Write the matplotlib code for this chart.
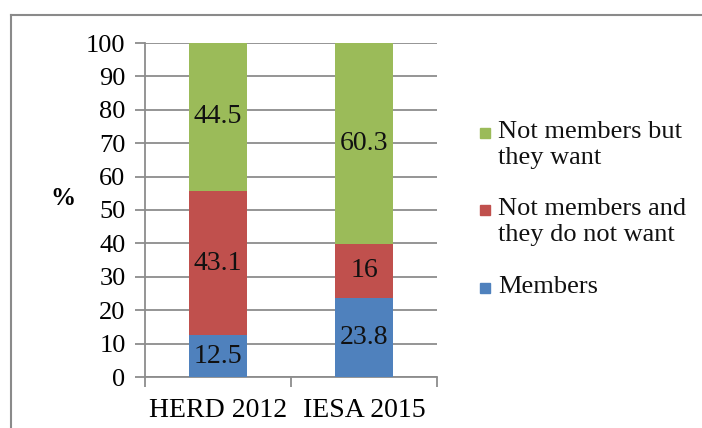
import matplotlib.pyplot as plt
from matplotlib.lines import Line2D
from matplotlib.patches import Rectangle

categories = ["HERD 2012", "IESA 2015"]
members = [12.5, 23.8]
not_members_no = [43.1, 16]
not_members_want = [44.5, 60.3]
series_labels = ["Members", "Not members and\nthey do not want", "Not members but\nthey want"]
colors = ["#4F81BD", "#C0504D", "#9BBB59"]
yticks = list(range(0, 101, 10))

plt.rcParams['font.family'] = ['Liberation Serif', 'DejaVu Serif']

W, H = 702, 428
fig = plt.figure(figsize=(W / 100, H / 100), dpi=100)

# outer chart frame (only top and left edges visible in the reference crop)
fx, fy = 10.5 / W, 1 - 14.5 / H
fig.add_artist(Line2D([fx, 1.0], [fy, fy], transform=fig.transFigure,
                      color="#8a8a8a", linewidth=1.5))
fig.add_artist(Line2D([fx, fx], [0.0, fy], transform=fig.transFigure,
                      color="#8a8a8a", linewidth=1.5))

ax = fig.add_axes([145 / W, 1 - 377 / H, (437 - 145) / W, (377 - 43) / H])

x = list(range(len(categories)))
series = [members, not_members_no, not_members_want]
bottom = [0.0] * len(categories)
for vals, col in zip(series, colors):
    ax.bar(x, vals, width=0.40, bottom=bottom, color=col, zorder=3)
    for xi, b, v in zip(x, bottom, vals):
        ax.text(xi, b + v / 2, f"{v:g}", ha="center", va="center",
                fontsize=20, color="#111111", zorder=4)
    bottom = [b + v for b, v in zip(bottom, vals)]

ax.set_xlim(-0.5, len(categories) - 0.5)
ax.set_ylim(0, 100)
ax.set_yticks(yticks)
ax.set_yticklabels([str(t) for t in yticks], fontsize=19)
ax.yaxis.grid(True, color="#8c8c8c", linewidth=1.3, zorder=0)
ax.set_axisbelow(True)

ax.set_xticks([-0.5, 0.5, 1.5])
ax.set_xticklabels([])
ax.set_xticks(x, minor=True)
ax.set_xticklabels(categories, minor=True, fontsize=20)
ax.tick_params(axis="x", which="minor", length=0, pad=15)
ax.tick_params(axis="x", which="major", length=7, width=1.3, color="#8c8c8c")
ax.tick_params(axis="y", length=7, width=1.3, color="#8c8c8c", pad=7)

for s in ["top", "right"]:
    ax.spines[s].set_visible(False)
for s in ["left", "bottom"]:
    ax.spines[s].set_color("#8c8c8c")
    ax.spines[s].set_linewidth(1.3)

ax.set_ylabel("%", rotation=0, fontsize=18, fontweight="bold", labelpad=0)
ax.yaxis.set_label_coords(-0.28, 0.5)

# legend (top to bottom: reversed series order)
legend_first_line_y = [133, 210, 288]
for lab, col, yc in zip(series_labels[::-1], colors[::-1], legend_first_line_y):
    fig.patches.append(Rectangle((480 / W, 1 - (yc + 5) / H), 10 / W, 10 / H,
                                 transform=fig.transFigure, color=col))
    fig.text(498 / W, 1 - (yc - 12) / H, lab, ha="left", va="top",
             fontsize=19, linespacing=1.25, color="#111111")

fig.savefig("out.png", dpi=100)
